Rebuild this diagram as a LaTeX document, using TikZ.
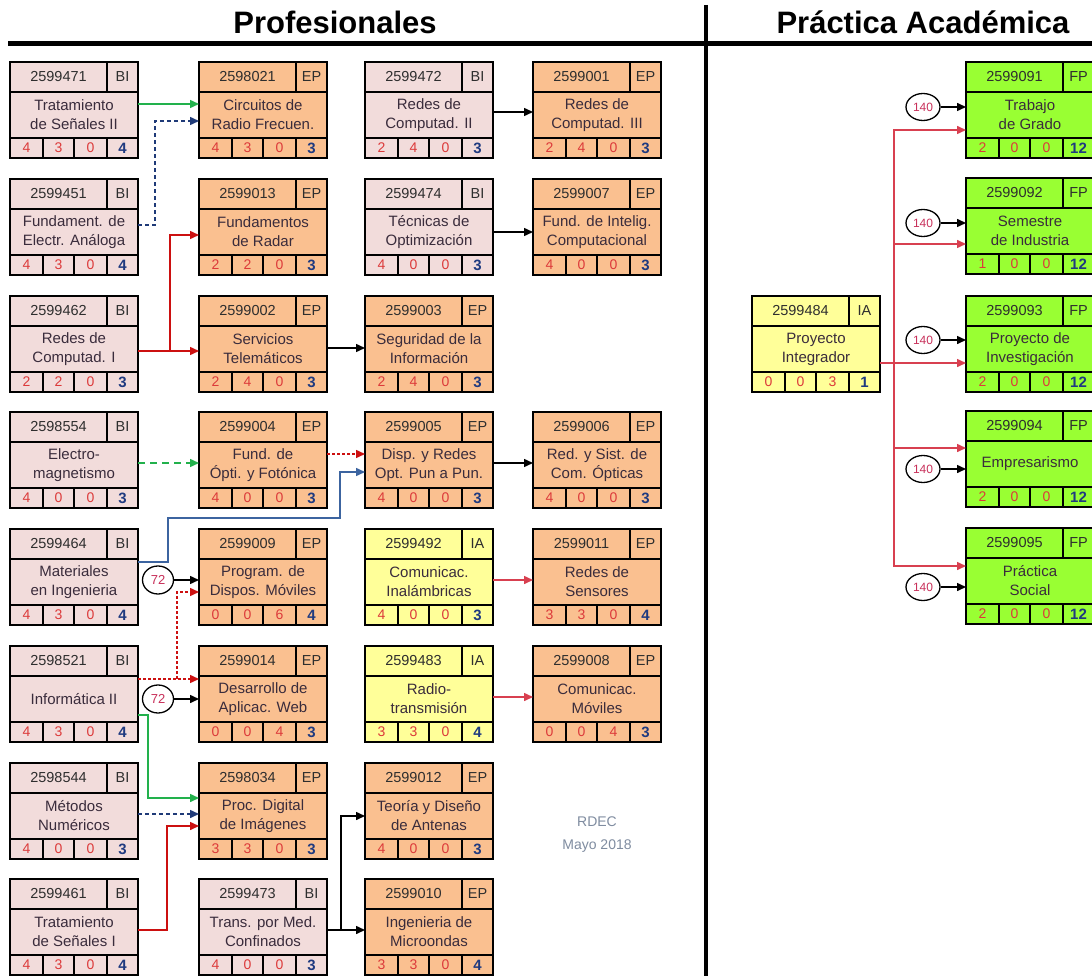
\documentclass[tikz,border=0pt]{standalone}
\usepackage{fontspec}
\setmainfont{Liberation Sans}
\usetikzlibrary{arrows.meta,calc,shapes.geometric}
\definecolor{fbi}{HTML}{F2DCDB}
\definecolor{fep}{HTML}{FAC090}
\definecolor{fia}{HTML}{FFFF99}
\definecolor{ffp}{HTML}{99FF33}
\definecolor{codec}{HTML}{2E2E2E}
\definecolor{titlec}{HTML}{3A2C3C}
\definecolor{credr}{HTML}{DC3A3A}
\definecolor{credb}{HTML}{1F3A80}
\definecolor{lred}{HTML}{CC1010}
\definecolor{pred}{HTML}{D84050}
\definecolor{lgreen}{HTML}{22B14C}
\definecolor{lnavy}{HTML}{1F3A78}
\definecolor{lsteel}{HTML}{3C64A0}
\definecolor{rdecc}{HTML}{7F8CA0}
\definecolor{circt}{HTML}{C8305A}
\tikzset{
  cellbox/.style={draw=black, line width=1.2pt, inner sep=0pt, outer sep=0pt, anchor=north west},
  arr/.style={line width=1.5pt, -{Triangle[length=9pt,width=8pt]}},
  blk/.style={arr, draw=black},
  grn/.style={arr, draw=lgreen},
  grnd/.style={arr, draw=lgreen, dash pattern=on 7pt off 5pt},
  navyd/.style={arr, draw=lnavy, dash pattern=on 4pt off 3pt},
  redl/.style={arr, draw=lred},
  redd/.style={arr, draw=lred, dash pattern=on 3pt off 2pt},
  redp/.style={arr, draw=pred},
  steel/.style={arr, draw=lsteel},
  circ/.style={ellipse, draw=black, line width=1.3pt, fill=white, inner sep=0pt, text=circt},
}
\newcommand{\bx}{}\newcommand{\by}{}\newcommand{\bfil}{}\newcommand{\bid}{}
\newcommand{\course}[7]{%
  \renewcommand{\bx}{#1}\renewcommand{\by}{#2}\renewcommand{\bfil}{#5}\renewcommand{\bid}{#3}%
  \node[cellbox, fill=#5, minimum width=97pt, minimum height=30pt, text=codec, font=\fontsize{14.5}{17}\selectfont] (k#3) at (#1,#2) {#3};
  \node[cellbox, fill=#5, minimum width=31pt, minimum height=30pt, text=codec, font=\fontsize{14.5}{17}\selectfont] (y#3) at ({#1+97},#2) {#4};
  \node[cellbox, fill=#5, minimum width=128pt, minimum height=46pt, text=titlec, align=center, font=\fontsize{15}{19}\selectfont] (m#3) at (#1,{#2+30}) {#6};
  \mycreds#7}
\newcommand{\mycreds}[4]{%
  \node[cellbox, fill=\bfil, minimum width=33pt, minimum height=20pt, text=credr, font=\fontsize{14}{16}\selectfont] (a\bid) at (\bx,{\by+76}) {#1};
  \node[cellbox, fill=\bfil, minimum width=31pt, minimum height=20pt, text=credr, font=\fontsize{14}{16}\selectfont] (b\bid) at ({\bx+33},{\by+76}) {#2};
  \node[cellbox, fill=\bfil, minimum width=33pt, minimum height=20pt, text=credr, font=\fontsize{14}{16}\selectfont] (c\bid) at ({\bx+64},{\by+76}) {#3};
  \node[cellbox, fill=\bfil, minimum width=31pt, minimum height=20pt, text=credb, font=\fontsize{15}{16}\selectfont\bfseries] (d\bid) at ({\bx+97},{\by+76}) {#4};}
\begin{document}
\begin{tikzpicture}[x=1pt,y=-1pt]
\clip (0,0) rectangle (1092,976);
\fill[white] (0,0) rectangle (1092,976);
% headers
\node[anchor=base, font=\fontsize{31}{31}\selectfont\bfseries] (hprof) at (335,34) {Profesionales};
\node[anchor=base, font=\fontsize{31}{31}\selectfont\bfseries] (hprac) at (923,34) {Práctica Académica};
\draw[line width=5pt] (8,44) -- (1092,44);
\draw[line width=4pt] (706,5) -- (706,976);
% column 1
\course{10}{62}{2599471}{BI}{fbi}{Tratamiento\\de Señales II}{{4}{3}{0}{4}}
\course{10}{179}{2599451}{BI}{fbi}{Fundament. de\\Electr. Análoga}{{4}{3}{0}{4}}
\course{10}{296}{2599462}{BI}{fbi}{Redes de\\Computad. I}{{2}{2}{0}{3}}
\course{10}{412}{2598554}{BI}{fbi}{Electro-\\magnetismo}{{4}{0}{0}{3}}
\course{10}{529}{2599464}{BI}{fbi}{Materiales\\en Ingenieria}{{4}{3}{0}{4}}
\course{10}{646}{2598521}{BI}{fbi}{Informática II}{{4}{3}{0}{4}}
\course{10}{763}{2598544}{BI}{fbi}{Métodos\\Numéricos}{{4}{0}{0}{3}}
\course{10}{879}{2599461}{BI}{fbi}{Tratamiento\\de Señales I}{{4}{3}{0}{4}}
% column 2
\course{199}{62}{2598021}{EP}{fep}{Circuitos de\\Radio Frecuen.}{{4}{3}{0}{3}}
\course{199}{179}{2599013}{EP}{fep}{Fundamentos\\de Radar}{{2}{2}{0}{3}}
\course{199}{296}{2599002}{EP}{fep}{Servicios\\Telemáticos}{{2}{4}{0}{3}}
\course{199}{412}{2599004}{EP}{fep}{Fund. de\\Ópti. y Fotónica}{{4}{0}{0}{3}}
\course{199}{529}{2599009}{EP}{fep}{Program. de\\Dispos. Móviles}{{0}{0}{6}{4}}
\course{199}{646}{2599014}{EP}{fep}{Desarrollo de\\Aplicac. Web}{{0}{0}{4}{3}}
\course{199}{763}{2598034}{EP}{fep}{Proc. Digital\\de Imágenes}{{3}{3}{0}{3}}
\course{199}{879}{2599473}{BI}{fbi}{Trans. por Med.\\Confinados}{{4}{0}{0}{3}}
% column 3
\course{365}{62}{2599472}{BI}{fbi}{Redes de\\Computad. II}{{2}{4}{0}{3}}
\course{365}{179}{2599474}{BI}{fbi}{Técnicas de\\Optimización}{{4}{0}{0}{3}}
\course{365}{296}{2599003}{EP}{fep}{Seguridad de la\\Información}{{2}{4}{0}{3}}
\course{365}{412}{2599005}{EP}{fep}{Disp. y Redes\\Opt. Pun a Pun.}{{4}{0}{0}{3}}
\course{365}{529}{2599492}{IA}{fia}{Comunicac.\\Inalámbricas}{{4}{0}{0}{3}}
\course{365}{646}{2599483}{IA}{fia}{Radio-\\transmisión}{{3}{3}{0}{4}}
\course{365}{763}{2599012}{EP}{fep}{Teoría y Diseño\\de Antenas}{{4}{0}{0}{3}}
\course{365}{879}{2599010}{EP}{fep}{Ingenieria de\\Microondas}{{3}{3}{0}{4}}
% column 4
\course{533}{62}{2599001}{EP}{fep}{Redes de\\Computad. III}{{2}{4}{0}{3}}
\course{533}{179}{2599007}{EP}{fep}{Fund. de Intelig.\\Computacional}{{4}{0}{0}{3}}
\course{533}{412}{2599006}{EP}{fep}{Red. y Sist. de\\Com. Ópticas}{{4}{0}{0}{3}}
\course{533}{529}{2599011}{EP}{fep}{Redes de\\Sensores}{{3}{3}{0}{4}}
\course{533}{646}{2599008}{EP}{fep}{Comunicac.\\Móviles}{{0}{0}{4}{3}}
% right side
\course{752}{296}{2599484}{IA}{fia}{Proyecto\\Integrador}{{0}{0}{3}{1}}
\course{966}{62}{2599091}{FP}{ffp}{Trabajo\\de Grado}{{2}{0}{0}{12}}
\course{966}{178}{2599092}{FP}{ffp}{Semestre\\de Industria}{{1}{0}{0}{12}}
\course{966}{296}{2599093}{FP}{ffp}{Proyecto de\\Investigación}{{2}{0}{0}{12}}
\course{966}{411}{2599094}{FP}{ffp}{Empresarismo}{{2}{0}{0}{12}}
\course{966}{528}{2599095}{FP}{ffp}{Práctica\\Social}{{2}{0}{0}{12}}
% note
\node[text=rdecc, align=center, font=\fontsize{14}{23}\selectfont] (rdec) at (597,835) {RDEC\\Mayo 2018};
% connectors left
\draw[grn] ($(m2599471.east)+(0,-11)$) -- ($(m2598021.west)+(0,-11)$);
\draw[navyd] ($(m2599451.east)+(0,-7)$) -- ++(17,0) |- ($(m2598021.west)+(0,6)$);
\draw[redl] ($(m2599462.east)+(0,2)$) -- ($(m2599002.west)+(0,2)$);
\draw[redl] ($(m2599462.east)+(32,2)$) |- ($(m2599013.west)+(0,3)$);
\draw[blk] ($(m2599472.east)+(0,-3)$) -- ($(m2599001.west)+(0,-3)$);
\draw[blk] (m2599474.east) -- (m2599007.west);
\draw[blk] ($(m2599002.east)+(0,-1)$) -- ($(m2599003.west)+(0,-1)$);
\draw[grnd] ($(m2598554.east)+(0,-2)$) -- ($(m2599004.west)+(0,-2)$);
\draw[redd] ($(m2599004.east)+(0,-11)$) -- ($(m2599005.west)+(0,-11)$);
\draw[steel] ($(m2599464.east)+(0,-20)$) -- ++(30,0) -- ++(0,-44) -- ++(172,0) |- ($(m2599005.west)+(0,7)$);
\node[circ, minimum width=31pt, minimum height=28pt, font=\fontsize{13}{13}\selectfont] (c72a) at (158,580) {72};
\node[circ, minimum width=31pt, minimum height=28pt, font=\fontsize{13}{13}\selectfont] (c72b) at (158,699) {72};
\draw[blk] (c72a.east) -- ($(m2599009.west)+(0,-2)$);
\draw[blk] (c72b.east) -- (m2599014.west);
\draw[redd] ($(m2598521.east)+(0,-20)$) -- ($(m2599014.west)+(0,-20)$);
\draw[redd] ($(m2598521.east)+(39,-20)$) |- ($(m2599009.west)+(0,10)$);
\draw[grn] ($(m2598521.east)+(0,16)$) -- ++(10,0) |- ($(m2598034.west)+(0,-18)$);
\draw[navyd] ($(m2598544.east)+(0,-2)$) -- ($(m2598034.west)+(0,-2)$);
\draw[redl] ($(m2599461.east)+(0,-2)$) -- ++(29,0) |- ($(m2598034.west)+(0,10)$);
\draw[blk] ($(m2599473.east)+(0,-2)$) -- ++(14,0) |- (m2599012.west);
\draw[blk] ($(m2599473.east)+(0,-2)$) -- ($(m2599010.west)+(0,-2)$);
\draw[blk] ($(m2599005.east)+(0,-2)$) -- ($(m2599006.west)+(0,-2)$);
\draw[redp] ($(m2599492.east)+(0,-2)$) -- ($(m2599011.west)+(0,-2)$);
\draw[redp] ($(m2599483.east)+(0,-2)$) -- ($(m2599008.west)+(0,-2)$);
% connectors right
\draw[redp] ($(m2599484.east)+(0,14)$) -- ++(14,0) |- ($(m2599091.west)+(0,15)$);
\draw[redp] ($(m2599484.east)+(0,14)$) -- ++(14,0) |- ($(m2599092.west)+(0,13)$);
\draw[redp] ($(m2599484.east)+(0,14)$) -- ($(m2599093.west)+(0,14)$);
\draw[redp] ($(m2599484.east)+(0,14)$) -- ++(14,0) |- ($(m2599094.west)+(0,-16)$);
\draw[redp] ($(m2599484.east)+(0,14)$) -- ++(14,0) |- ($(m2599095.west)+(0,-15)$);
\node[circ, minimum width=34pt, minimum height=27pt, font=\fontsize{12}{12}\selectfont] (p1) at (923,107) {140};
\node[circ, minimum width=34pt, minimum height=27pt, font=\fontsize{12}{12}\selectfont] (p2) at (923,223) {140};
\node[circ, minimum width=34pt, minimum height=27pt, font=\fontsize{12}{12}\selectfont] (p3) at (923,340) {140};
\node[circ, minimum width=34pt, minimum height=27pt, font=\fontsize{12}{12}\selectfont] (p4) at (923,469) {140};
\node[circ, minimum width=34pt, minimum height=27pt, font=\fontsize{12}{12}\selectfont] (p5) at (923,587) {140};
\draw[blk] (p1.east) -- ($(m2599091.west)+(0,-8)$);
\draw[blk] (p2.east) -- ($(m2599092.west)+(0,-8)$);
\draw[blk] (p3.east) -- ($(m2599093.west)+(0,-9)$);
\draw[blk] (p4.east) -- ($(m2599094.west)+(0,5)$);
\draw[blk] (p5.east) -- ($(m2599095.west)+(0,6)$);
\end{tikzpicture}
\end{document}
